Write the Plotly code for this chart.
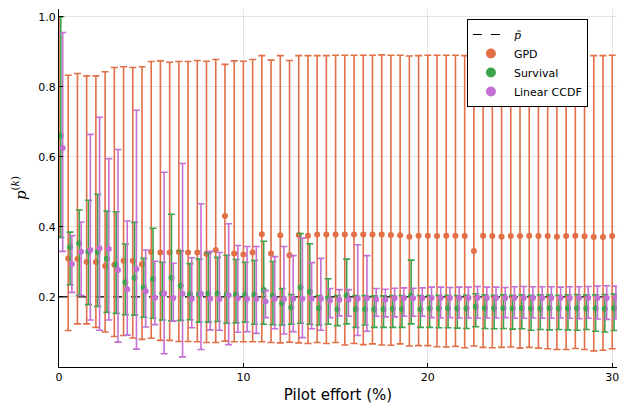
import plotly.graph_objects as go

# ---------------- data ----------------
pilot_effort = [0.0, 0.5, 1.0, 1.5, 2.0, 2.5, 3.0, 3.5, 4.0, 4.5,
                5.0, 5.5, 6.0, 6.5, 7.0, 7.5, 8.0, 8.5, 9.0, 9.5,
                10.0, 10.5, 11.0, 11.5, 12.0, 12.5, 13.0, 13.5, 14.0, 14.5,
                15.0, 15.5, 16.0, 16.5, 17.0, 17.5, 18.0, 18.5, 19.0, 19.5,
                20.0, 20.5, 21.0, 21.5, 22.0, 22.5, 23.0, 23.5, 24.0, 24.5,
                25.0, 25.5, 26.0, 26.5, 27.0, 27.5, 28.0, 28.5, 29.0, 29.5,
                30.0]

p_tilde = 0.2

gpd = [0.66, 0.31, 0.308, 0.30, 0.30, 0.288, 0.292, 0.303, 0.303, 0.293,
       0.328, 0.327, 0.327, 0.328, 0.327, 0.327, 0.323, 0.334, 0.431, 0.324,
       0.321, 0.327, 0.379, 0.324, 0.376, 0.319, 0.377, 0.375, 0.378, 0.378,
       0.378, 0.378, 0.378, 0.378, 0.378, 0.378, 0.377, 0.376, 0.372, 0.375,
       0.375, 0.374, 0.375, 0.375, 0.374, 0.331, 0.375, 0.374, 0.372, 0.374,
       0.374, 0.375, 0.374, 0.374, 0.372, 0.374, 0.375, 0.373, 0.371, 0.371,
       0.374]
gpd_hi = [1.0, 0.833, 0.838, 0.831, 0.831, 0.843, 0.855, 0.857, 0.855, 0.857,
          0.872, 0.874, 0.870, 0.872, 0.872, 0.875, 0.873, 0.878, 0.864, 0.874,
          0.873, 0.878, 0.889, 0.876, 0.889, 0.875, 0.889, 0.889, 0.889, 0.889,
          0.890, 0.890, 0.890, 0.890, 0.890, 0.891, 0.890, 0.890, 0.888, 0.889,
          0.890, 0.890, 0.890, 0.890, 0.889, 0.890, 0.890, 0.890, 0.889, 0.890,
          0.890, 0.890, 0.891, 0.890, 0.890, 0.890, 0.890, 0.890, 0.889, 0.889,
          0.890]
gpd_lo = [0.37, 0.104, 0.123, 0.123, 0.113, 0.100, 0.087, 0.090, 0.083, 0.079,
          0.082, 0.076, 0.076, 0.073, 0.073, 0.072, 0.070, 0.070, 0.074, 0.072,
          0.072, 0.072, 0.072, 0.070, 0.069, 0.071, 0.069, 0.067, 0.070, 0.067,
          0.070, 0.063, 0.067, 0.064, 0.066, 0.063, 0.062, 0.066, 0.060, 0.061,
          0.061, 0.058, 0.057, 0.059, 0.055, 0.060, 0.056, 0.055, 0.056, 0.057,
          0.054, 0.056, 0.054, 0.052, 0.050, 0.050, 0.053, 0.050, 0.046, 0.048,
          0.052]

survival = [0.66, 0.342, 0.353, 0.33, 0.328, 0.309, 0.292, 0.242, 0.255, 0.227,
            0.251, 0.21, 0.255, 0.232, 0.208, 0.208, 0.21, 0.21, 0.206, 0.206,
            0.206, 0.206, 0.22, 0.204, 0.182, 0.17, 0.227, 0.215, 0.168, 0.196,
            0.165, 0.204, 0.165, 0.165, 0.165, 0.165, 0.166, 0.165, 0.204, 0.165,
            0.167, 0.167, 0.168, 0.167, 0.167, 0.172, 0.168, 0.167, 0.168, 0.167,
            0.168, 0.167, 0.167, 0.168, 0.167, 0.167, 0.168, 0.167, 0.167, 0.166,
            0.168]
survival_hi = [1.0, 0.385, 0.448, 0.476, 0.493, 0.445, 0.443, 0.351, 0.413, 0.31,
               0.396, 0.299, 0.436, 0.332, 0.295, 0.308, 0.325, 0.313, 0.319, 0.307,
               0.299, 0.304, 0.359, 0.301, 0.224, 0.207, 0.381, 0.352, 0.204, 0.252,
               0.204, 0.308, 0.204, 0.204, 0.203, 0.203, 0.204, 0.204, 0.305, 0.204,
               0.204, 0.205, 0.205, 0.204, 0.205, 0.209, 0.206, 0.205, 0.206, 0.205,
               0.206, 0.205, 0.206, 0.206, 0.205, 0.206, 0.207, 0.206, 0.206, 0.207,
               0.208]
survival_lo = [0.37, 0.235, 0.204, 0.178, 0.173, 0.156, 0.153, 0.149, 0.148, 0.142,
               0.139, 0.134, 0.132, 0.133, 0.135, 0.128, 0.128, 0.130, 0.125, 0.126,
               0.128, 0.122, 0.122, 0.121, 0.120, 0.122, 0.125, 0.122, 0.120, 0.122,
               0.118, 0.123, 0.113, 0.120, 0.113, 0.113, 0.113, 0.113, 0.123, 0.113,
               0.113, 0.112, 0.112, 0.111, 0.110, 0.115, 0.110, 0.109, 0.110, 0.108,
               0.109, 0.105, 0.107, 0.106, 0.107, 0.106, 0.105, 0.107, 0.102, 0.100,
               0.104]

linear = [0.625, 0.294, 0.329, 0.334, 0.339, 0.337, 0.277, 0.222, 0.28, 0.216,
          0.198, 0.21, 0.197, 0.209, 0.194, 0.209, 0.195, 0.194, 0.205, 0.196,
          0.194, 0.194, 0.187, 0.195, 0.194, 0.195, 0.195, 0.195, 0.195, 0.19,
          0.192, 0.192, 0.195, 0.196, 0.193, 0.192, 0.196, 0.196, 0.196, 0.196,
          0.197, 0.197, 0.197, 0.197, 0.197, 0.198, 0.197, 0.197, 0.197, 0.197,
          0.197, 0.197, 0.197, 0.197, 0.197, 0.197, 0.197, 0.197, 0.197, 0.197,
          0.197]
linear_hi = [0.955, 0.375, 0.414, 0.664, 0.713, 0.595, 0.621, 0.417, 0.733, 0.334,
             0.302, 0.556, 0.296, 0.581, 0.312, 0.466, 0.33, 0.327, 0.409, 0.347,
             0.344, 0.344, 0.218, 0.315, 0.344, 0.318, 0.368, 0.298, 0.31, 0.224,
             0.221, 0.221, 0.349, 0.318, 0.224, 0.222, 0.225, 0.226, 0.225, 0.226,
             0.228, 0.228, 0.227, 0.228, 0.228, 0.230, 0.228, 0.228, 0.227, 0.229,
             0.230, 0.229, 0.229, 0.229, 0.228, 0.229, 0.229, 0.230, 0.231, 0.232,
             0.231]
linear_lo = [0.33, 0.213, 0.204, 0.134, 0.105, 0.134, 0.071, 0.091, 0.051, 0.114,
             0.121, 0.038, 0.131, 0.029, 0.112, 0.05, 0.106, 0.105, 0.064, 0.099,
             0.101, 0.096, 0.141, 0.109, 0.094, 0.101, 0.084, 0.109, 0.105, 0.141,
             0.146, 0.145, 0.09, 0.102, 0.145, 0.143, 0.143, 0.145, 0.145, 0.145,
             0.141, 0.140, 0.141, 0.140, 0.140, 0.139, 0.140, 0.140, 0.141, 0.139,
             0.139, 0.140, 0.139, 0.139, 0.140, 0.139, 0.138, 0.139, 0.137, 0.136,
             0.137]

x_ticks = [0, 10, 20, 30]
y_ticks = [0.2, 0.4, 0.6, 0.8, 1.0]

# ---------------- styling ----------------
COLORS = {"GPD": "#E26F46", "Survival": "#3DA44D", "Linear CCDF": "#C271D2"}
DODGE = {"GPD": 0.0, "Survival": 0.1, "Linear CCDF": 0.2}

fig = go.Figure()

# reference level p~
fig.add_trace(go.Scatter(
    x=[pilot_effort[0], pilot_effort[-1] + 0.3], y=[p_tilde, p_tilde],
    mode="lines", line=dict(color="black", dash="dash", width=1.2),
    name='<span style="font-family:DejaVu Serif"><i>p̃</i></span>',
    hoverinfo="skip"))

series = [("GPD", gpd, gpd_hi, gpd_lo),
          ("Survival", survival, survival_hi, survival_lo),
          ("Linear CCDF", linear, linear_hi, linear_lo)]

for name, mid, hi, lo in series:
    col = COLORS[name]
    fig.add_trace(go.Scatter(
        x=[v + DODGE[name] for v in pilot_effort],
        y=mid,
        mode="markers",
        name=name,
        showlegend=False,
        marker=dict(color=col, size=6, line=dict(width=0)),
        error_y=dict(type="data", symmetric=False,
                     array=[h - m for h, m in zip(hi, mid)],
                     arrayminus=[m - l for m, l in zip(mid, lo)],
                     color=col, thickness=1.6, width=3.5),
    ))

# legend entries (larger markers, as in the reference legend)
for name, _, _, _ in series:
    fig.add_trace(go.Scatter(
        x=[None], y=[None], mode="markers", name=name,
        marker=dict(color=COLORS[name], size=10, line=dict(width=0)),
        hoverinfo="skip"))

fig.update_layout(
    width=621, height=406,
    margin=dict(l=59, r=4, t=9, b=39),
    paper_bgcolor="white", plot_bgcolor="white",
    font=dict(family="DejaVu Sans", size=11, color="black"),
    showlegend=True,
    legend=dict(x=0.731, y=0.972, xanchor="left", yanchor="top",
                bgcolor="white", bordercolor="black", borderwidth=1,
                font=dict(size=11), tracegroupgap=0, itemwidth=36),
    xaxis=dict(range=[0, 30.26], tickvals=x_ticks, ticktext=[str(t) for t in x_ticks],
               showgrid=True, gridcolor="rgba(0,0,0,0.1)", gridwidth=0.6,
               zeroline=False, showline=True, linecolor="black", linewidth=1,
               ticks="inside", ticklen=4, tickcolor="black", automargin=False,
               title=dict(text="Pilot effort (%)", font=dict(size=15), standoff=6)),
    yaxis=dict(range=[0.0, 1.022], tickvals=y_ticks, ticktext=[f"{t:.1f}" for t in y_ticks],
               showgrid=True, gridcolor="rgba(0,0,0,0.1)", gridwidth=0.6,
               zeroline=False, showline=True, linecolor="black", linewidth=1,
               ticks="inside", ticklen=4, tickcolor="black", automargin=False,
               title=dict(text="<i>p</i><sup>(<i>k</i>)</sup>",
                          font=dict(family="DejaVu Serif", size=15), standoff=8)),
)

fig.write_html("out.html", config={"displayModeBar": False},
               post_script="document.body.style.margin='0';document.body.style.overflow='hidden';")
